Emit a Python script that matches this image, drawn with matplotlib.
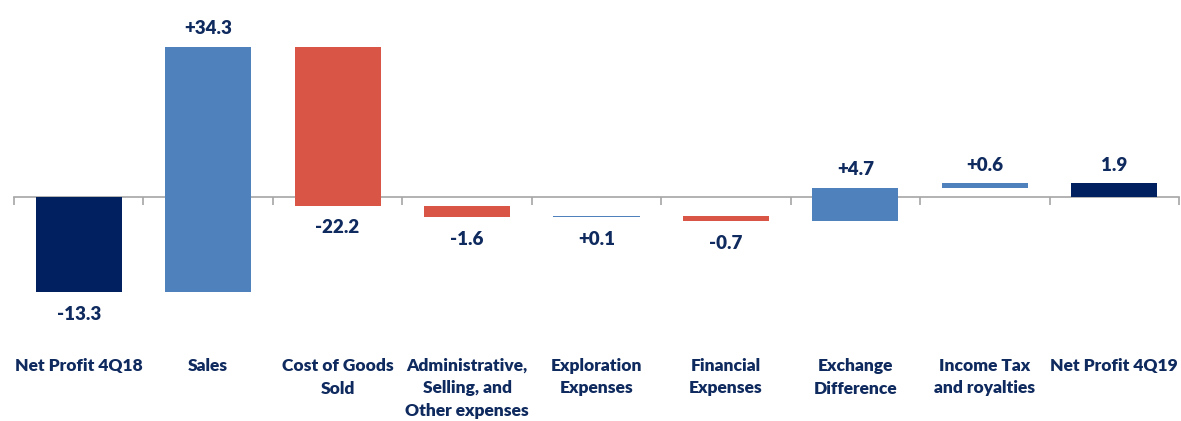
"""
Waterfall: Net Profit 4Q18 -> Net Profit 4Q19
"""

import matplotlib.pyplot as plt
import numpy as np

categories = [
    "Net Profit 4Q18",
    "Sales",
    "Cost of Goods\nSold",
    "Administrative,\nSelling, and\nOther expenses",
    "Exploration\nExpenses",
    "Financial\nExpenses",
    "Exchange\nDifference",
    "Income Tax\nand royalties",
    "Net Profit 4Q19",
]
values = [-13.3, 34.3, -22.2, -1.6, 0.1, -0.7, 4.7, 0.6, 1.9]
labels = ["-13.3", "+34.3", "-22.2", "-1.6", "+0.1", "-0.7", "+4.7", "+0.6", "1.9"]
is_total = [True, False, False, False, False, False, False, False, True]

NAVY = "#002060"
BLUE = "#4F81BD"
RED = "#D95545"
TEXT = "#0F2A5E"
GRID = "#A6A6A6"

plt.rcParams["font.family"] = ["Lato", "DejaVu Sans"]

# bottoms / heights for the floating bars
bottoms, heights, colors = [], [], []
running = 0.0
for v, tot in zip(values, is_total):
    if tot:
        bottoms.append(0.0)
        heights.append(v)
        colors.append(NAVY)
        running = v
    else:
        bottoms.append(running)
        heights.append(v)
        colors.append(BLUE if v > 0 else RED)
        running += v

x = np.arange(len(categories))

fig = plt.figure(figsize=(11.81, 4.21), dpi=100)
ax = fig.add_axes([14 / 1181, 0, (1179 - 14) / 1181, 1])
ax.bar(x, heights, bottom=bottoms, width=0.665, color=colors, zorder=3,
       linewidth=0)

ax.set_xlim(-0.5, len(categories) - 0.5)
ax.set_ylim(-31.4, 27.6)

for s in ["top", "right", "left"]:
    ax.spines[s].set_visible(False)
ax.spines["bottom"].set_position(("data", 0))
ax.spines["bottom"].set_color(GRID)
ax.spines["bottom"].set_linewidth(1.2)
ax.set_xticks(np.arange(len(categories) + 1) - 0.5)
ax.tick_params(axis="x", direction="out", length=6, width=1.2, color=GRID,
               labelbottom=False)
ax.set_yticks([])
ax.patch.set_alpha(0)

# value labels
for xi, b, h, lab in zip(x, bottoms, heights, labels):
    top, bot = max(b, b + h), min(b, b + h)
    if h > 0 and top > 0:
        ax.annotate(lab, (xi, top), xytext=(0, 7), textcoords="offset points",
                    ha="center", va="bottom", fontsize=13.5, fontweight="heavy",
                    color=TEXT)
    else:
        ax.annotate(lab, (xi, bot), xytext=(0, -10), textcoords="offset points",
                    ha="center", va="top", fontsize=13.5, fontweight="heavy",
                    color=TEXT)

# category labels
for xi, cat in zip(x, categories):
    ax.text(xi, (421 - 358) / 421, cat, transform=ax.get_xaxis_transform(),
            ha="center", va="top", fontsize=12.5, fontweight="heavy",
            color=TEXT, linespacing=1.5)

fig.savefig("out.png", dpi=100)
